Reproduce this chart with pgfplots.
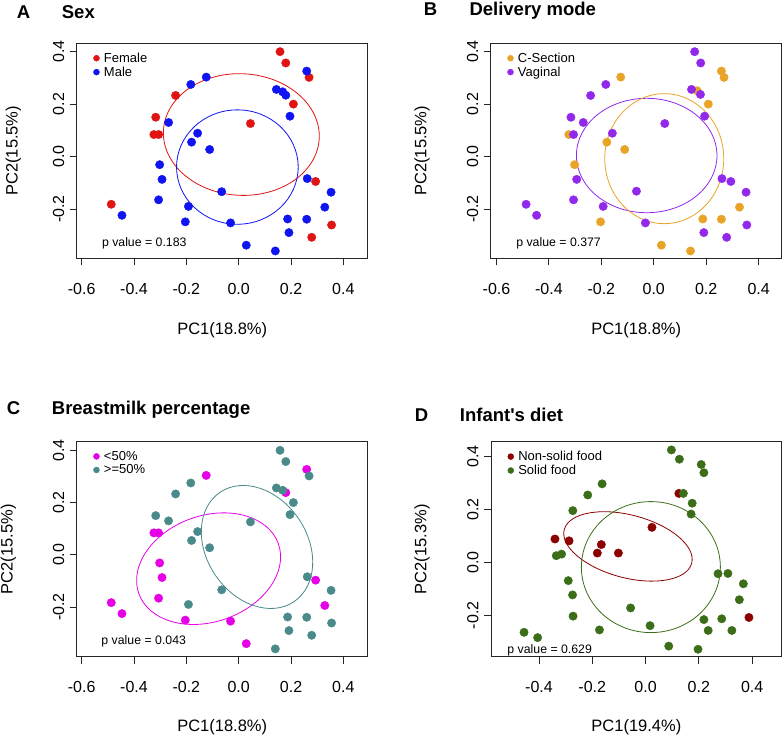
\documentclass[border=0pt]{standalone}
\usepackage{pgfplots}
\usepackage{pgfplotstable}
\pgfplotsset{compat=1.18}
\usepackage{fontspec}
\setmainfont{Liberation Sans}[Ligatures=TeXOff]

\definecolor{cRed}{RGB}{225,20,20}
\definecolor{cBlue}{RGB}{15,20,240}
\definecolor{cOrange}{RGB}{233,163,38}
\definecolor{cPurple}{RGB}{146,40,235}
\definecolor{cMagenta}{RGB}{230,0,230}
\definecolor{cTeal}{RGB}{74,138,138}
\definecolor{cDarkRed}{RGB}{140,0,0}
\definecolor{cGreen}{RGB}{60,110,25}

% ---------- Panel A / B / C share the same PCA coordinates ----------
\pgfplotstableread{
x y
0.158 0.400
0.180 0.357
0.269 0.302
0.209 0.200
-0.241 0.233
-0.317 0.150
-0.324 0.084
-0.306 0.084
0.045 0.126
0.294 -0.095
-0.487 -0.182
0.355 -0.261
0.279 -0.308
}\Afemale
\pgfplotstableread{
x y
0.260 0.326
0.144 0.256
0.168 0.247
0.180 0.234
0.196 0.154
-0.124 0.303
-0.183 0.275
-0.268 0.130
-0.157 0.089
-0.180 0.055
-0.111 0.027
-0.302 -0.031
-0.293 -0.087
-0.306 -0.165
-0.065 -0.134
-0.192 -0.190
-0.204 -0.249
-0.031 -0.253
-0.446 -0.224
0.029 -0.338
0.140 -0.360
0.187 -0.238
0.192 -0.290
0.260 -0.239
0.262 -0.084
0.353 -0.136
0.329 -0.193
}\Amale
\pgfplotstableread{
x y
0.258 0.326
0.268 0.302
-0.126 0.303
0.166 0.251
0.208 0.200
-0.324 0.084
-0.179 0.055
-0.111 0.027
-0.302 -0.031
0.327 -0.193
0.187 -0.238
0.258 -0.239
-0.203 -0.249
0.029 -0.338
0.140 -0.360
}\Bcsec
\pgfplotstableread{
x y
0.156 0.400
0.179 0.357
0.144 0.256
0.178 0.237
0.194 0.154
-0.183 0.275
-0.241 0.233
-0.316 0.150
-0.269 0.130
-0.306 0.084
-0.158 0.089
0.042 0.126
-0.294 -0.087
-0.306 -0.165
-0.066 -0.132
-0.193 -0.190
-0.032 -0.253
-0.487 -0.182
-0.447 -0.224
0.260 -0.084
0.294 -0.095
0.352 -0.136
0.355 -0.261
0.191 -0.290
0.278 -0.308
}\Bvag
\pgfplotstableread{
x y
0.260 0.327
-0.124 0.304
0.180 0.238
-0.324 0.084
-0.306 0.084
-0.302 -0.031
-0.293 -0.087
-0.306 -0.166
-0.487 -0.183
-0.446 -0.225
-0.204 -0.250
-0.031 -0.254
0.029 -0.340
0.294 -0.097
0.329 -0.194
}\Clow
\pgfplotstableread{
x y
0.158 0.400
0.180 0.357
0.269 0.302
0.144 0.256
0.168 0.247
0.209 0.200
0.196 0.154
-0.183 0.275
-0.241 0.233
-0.317 0.150
-0.268 0.130
0.045 0.126
-0.157 0.089
-0.180 0.055
-0.111 0.027
-0.065 -0.134
-0.192 -0.190
0.262 -0.084
0.353 -0.136
0.187 -0.238
0.260 -0.239
0.355 -0.261
0.192 -0.290
0.279 -0.308
0.140 -0.360
}\Chigh
% ---------- Panel D ----------
\pgfplotstableread{
x y
-0.340 0.088
-0.287 0.081
-0.166 0.067
-0.181 0.035
-0.102 0.035
0.024 0.132
0.125 0.260
0.388 -0.208
}\Dnon
\pgfplotstableread{
x y
0.097 0.424
0.127 0.389
0.209 0.369
0.219 0.338
-0.163 0.296
-0.217 0.254
0.142 0.260
0.175 0.223
0.171 0.182
-0.273 0.195
-0.335 0.025
-0.315 0.031
-0.290 -0.069
-0.274 -0.123
-0.272 -0.203
-0.173 -0.255
-0.056 -0.172
0.017 -0.239
0.087 -0.316
0.197 -0.328
0.219 -0.216
0.235 -0.257
0.286 -0.213
0.324 -0.257
0.272 -0.043
0.309 -0.042
0.367 -0.081
0.352 -0.141
-0.456 -0.264
-0.405 -0.284
}\Dsolid

\pgfplotsset{
  panel/.style={
    scale only axis, width=291pt, height=215pt,
    axis line style={line width=0.9pt, black!85},
    tick align=outside, major tick length=7pt,
    xtick pos=bottom, ytick pos=left,
    tick style={line width=0.9pt, black!85},
    ytick={-0.2,0,0.2,0.4}, yticklabels={-0.2,0.0,0.2,0.4},
    ticklabel style={font=\fontsize{16}{16}\selectfont},
    yticklabel style={rotate=90, anchor=south},
    xticklabel style={anchor=north},
    xticklabel shift=14pt, yticklabel shift=2pt,
    label style={font=\fontsize{16.5}{17}\selectfont},
    legend style={draw=none, fill=none, font=\fontsize{13}{13}\selectfont,
      anchor=north west, at={(axis description cs:0.057,0.964)},
      row sep=0pt, inner sep=0pt, nodes={inner sep=1.5pt}},
    legend cell align=left,
    legend image code/.code={\draw[##1, mark size=3pt] plot coordinates {(3pt,0pt)}; \path[draw=none, fill=none] (0pt,0pt) -- (9pt,0pt);},
  },
  pts/.style={only marks, mark=*, mark size=4.2pt},
}
\tikzset{pv/.style={anchor=west, inner sep=0pt, font=\fontsize{12.3}{13}\selectfont}}

\begin{document}
\begin{tikzpicture}
\useasboundingbox (0,0) rectangle (783pt,737pt);

% titles
\node[anchor=base west, inner sep=0pt, font=\fontsize{18.5}{19}\selectfont\bfseries] at (16.7pt,718.7pt) {A};
\node[anchor=base west, inner sep=0pt, font=\fontsize{18.5}{19}\selectfont\bfseries] at (61.7pt,718.7pt) {Sex};
\node[anchor=base west, inner sep=0pt, font=\fontsize{18.5}{19}\selectfont\bfseries] at (423.7pt,721.7pt) {B};
\node[anchor=base west, inner sep=0pt, font=\fontsize{18.5}{19}\selectfont\bfseries] at (469.3pt,721.7pt) {Delivery mode};
\node[anchor=base west, inner sep=0pt, font=\fontsize{18.5}{19}\selectfont\bfseries] at (6.7pt,323pt) {C};
\node[anchor=base west, inner sep=0pt, font=\fontsize{18.5}{19}\selectfont\bfseries] at (51.7pt,323pt) {Breastmilk percentage};
\node[anchor=base west, inner sep=0pt, font=\fontsize{18.5}{19}\selectfont\bfseries] at (414.7pt,315.3pt) {D};
\node[anchor=base west, inner sep=0pt, font=\fontsize{18.5}{19}\selectfont\bfseries] at (459.7pt,315.3pt) {Infant's diet};

% ---------------- A ----------------
\begin{axis}[panel, at={(76.7pt,478.7pt)}, anchor=south west,
  xmin=-0.619, xmax=0.493, ymin=-0.388, ymax=0.432,
  xtick={-0.6,-0.4,-0.2,0,0.2,0.4}, xticklabels={-0.6,-0.4,-0.2,0.0,0.2,0.4},
  xlabel={PC1(18.8\%)}, ylabel={PC2(15.5\%)},
  xlabel style={at={(axis description cs:0.5,-0.335)}, anchor=center},
  ylabel style={at={(axis description cs:-0.218,0.5)}, anchor=center}]
\addplot[pts, color=cRed] table {\Afemale};
\addlegendentry{Female}
\addplot[pts, color=cBlue] table {\Amale};
\addlegendentry{Male}
\draw[cRed, line width=0.8pt, rotate around={-3:(axis cs:0.010,0.084)}] (axis cs:0.010,0.084) ellipse [x radius=78pt, y radius=60.8pt];
\draw[cBlue, line width=0.8pt] (axis cs:-0.005,-0.040) ellipse [x radius=60.8pt, y radius=57.2pt];
\node[pv] at (axis cs:-0.523,-0.330) {p value = 0.183};
\end{axis}

% ---------------- B ----------------
\begin{axis}[panel, at={(490.7pt,478.7pt)}, anchor=south west,
  xmin=-0.622, xmax=0.488, ymin=-0.388, ymax=0.432,
  xtick={-0.6,-0.4,-0.2,0,0.2,0.4}, xticklabels={-0.6,-0.4,-0.2,0.0,0.2,0.4},
  xlabel={PC1(18.8\%)}, ylabel={PC2(15.5\%)},
  xlabel style={at={(axis description cs:0.5,-0.335)}, anchor=center},
  ylabel style={at={(axis description cs:-0.236,0.5)}, anchor=center}]
\addplot[pts, color=cOrange] table {\Bcsec};
\addlegendentry{C-Section}
\addplot[pts, color=cPurple] table {\Bvag};
\addlegendentry{Vaginal}
\draw[cPurple, line width=0.8pt] (axis cs:-0.027,0.004) ellipse [x radius=70.3pt, y radius=57.2pt];
\draw[cOrange, line width=0.8pt] (axis cs:0.040,-0.008) ellipse [x radius=59.5pt, y radius=65pt];
\node[pv] at (axis cs:-0.525,-0.331) {p value = 0.377};
\end{axis}

% ---------------- C ----------------
\begin{axis}[panel, at={(76.7pt,80.3pt)}, anchor=south west,
  xmin=-0.619, xmax=0.493, ymin=-0.390, ymax=0.433,
  xtick={-0.6,-0.4,-0.2,0,0.2,0.4}, xticklabels={-0.6,-0.4,-0.2,0.0,0.2,0.4},
  xlabel={PC1(18.8\%)}, ylabel={PC2(15.5\%)},
  xlabel style={at={(axis description cs:0.5,-0.33)}, anchor=center},
  ylabel style={at={(axis description cs:-0.235,0.5)}, anchor=center}]
\addplot[pts, color=cMagenta] table {\Clow};
\addlegendentry{<50\%}
\addplot[pts, color=cTeal] table {\Chigh};
\addlegendentry{>=50\%}
\draw[cMagenta, line width=0.8pt, rotate around={19.7:(axis cs:-0.115,-0.053)}] (axis cs:-0.115,-0.053) ellipse [x radius=74.1pt, y radius=53pt];
\draw[cTeal, line width=0.8pt, rotate around={-55.9:(axis cs:0.070,0.030)}] (axis cs:0.070,0.030) ellipse [x radius=66pt, y radius=50.3pt];
\node[pv] at (axis cs:-0.525,-0.331) {p value = 0.043};
\end{axis}

% ---------------- D ----------------
\begin{axis}[panel, at={(491pt,80.3pt)}, anchor=south west, width=290.7pt,
  xmin=-0.580, xmax=0.511, ymin=-0.356, ymax=0.455,
  xtick={-0.4,-0.2,0,0.2,0.4}, xticklabels={-0.4,-0.2,0.0,0.2,0.4},
  xlabel={PC1(19.4\%)}, ylabel={PC2(15.3\%)},
  xlabel style={at={(axis description cs:0.5,-0.33)}, anchor=center},
  ylabel style={at={(axis description cs:-0.237,0.5)}, anchor=center}]
\addplot[pts, color=cDarkRed] table {\Dnon};
\addlegendentry{Non-solid food}
\addplot[pts, color=cGreen] table {\Dsolid};
\addlegendentry{Solid food}
\draw[cDarkRed, line width=0.8pt, rotate around={-14.8:(axis cs:-0.066,0.060)}] (axis cs:-0.066,0.060) ellipse [x radius=65.9pt, y radius=31.4pt];
\draw[cGreen, line width=0.8pt] (axis cs:0.020,-0.018) ellipse [x radius=69.5pt, y radius=65.5pt];
\node[pv] at (axis cs:-0.519,-0.331) {p value = 0.629};
\end{axis}
\end{tikzpicture}
\end{document}
